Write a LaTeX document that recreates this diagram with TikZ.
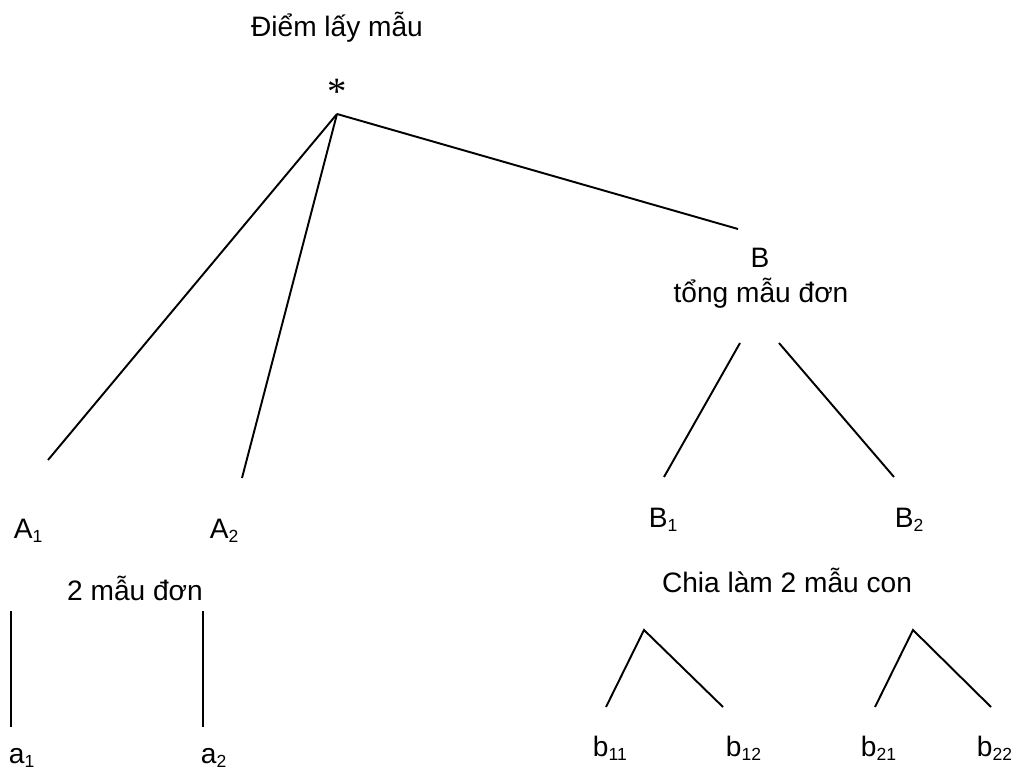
\documentclass[tikz,border=0pt]{standalone}
\usepackage{fontspec}
\setmainfont{Liberation Sans}
\newfontfamily\starfont{Liberation Serif}
\newcommand{\idx}[1]{\raisebox{-2.3pt}{\fontsize{10}{12}\selectfont #1}}

\begin{document}
\begin{tikzpicture}[x=0.02cm, y=-0.02cm, line width=1.1pt,
  every node/.style={inner sep=0pt, font=\fontsize{16}{19}\selectfont},
  lbl/.style={anchor=base west}, txt/.style={anchor=base}]
  \useasboundingbox (0,0) rectangle (1011,767);

  % Sampling point
  \node[txt] (title) at (337,37) {Điểm lấy mẫu};
  \node[txt, font=\starfont\fontsize{22}{26}\selectfont] (star) at (337,105) {*};
  \coordinate (root) at (337,114);

  % First split
  \coordinate (topA1) at (48,460);
  \coordinate (topA2) at (242,478);
  \coordinate (topB) at (738,229);
  \draw (root) -- (topA1);
  \draw (root) -- (topA2);
  \draw (root) -- (topB);

  \node[txt] (B) at (760,267) {B};
  \node[txt] (Bsum) at (761,302) {tổng mẫu đơn};

  % Left branch
  \node[lbl] (A1) at (13,538) {A\idx{1}};
  \node[lbl] (A2) at (209,538) {A\idx{2}};
  \node[txt] (Asingle) at (135,600) {2 mẫu đơn};
  \coordinate (upa1) at (11,611);
  \coordinate (dna1) at (11,727);
  \coordinate (upa2) at (203,611);
  \coordinate (dna2) at (203,727);
  \draw (upa1) -- (dna1);
  \draw (upa2) -- (dna2);
  \node[lbl] (a1) at (8,763) {a\idx{1}};
  \node[lbl] (a2) at (200,763) {a\idx{2}};

  % Right branch
  \coordinate (Bl) at (740,343);
  \coordinate (Br) at (779,343);
  \coordinate (endB1) at (664,477);
  \coordinate (endB2) at (894,477);
  \draw (Bl) -- (endB1);
  \draw (Br) -- (endB2);
  \node[lbl] (B1) at (648,527) {B\idx{1}};
  \node[lbl] (B2) at (894,527) {B\idx{2}};
  \node[txt] (Bsplit) at (787,592) {Chia làm 2 mẫu con};

  % Sub-samples
  \coordinate (topb1) at (644,630);
  \coordinate (b11up) at (606,707);
  \coordinate (b12up) at (723,707);
  \coordinate (topb2) at (913,630);
  \coordinate (b21up) at (875,707);
  \coordinate (b22up) at (991,707);
  \draw (b11up) -- (topb1) -- (b12up);
  \draw (b21up) -- (topb2) -- (b22up);
  \node[lbl] (b11) at (592,756) {b\idx{11}};
  \node[lbl] (b12) at (725,756) {b\idx{12}};
  \node[lbl] (b21) at (860,756) {b\idx{21}};
  \node[lbl] (b22) at (976,756) {b\idx{22}};
\end{tikzpicture}
\end{document}
